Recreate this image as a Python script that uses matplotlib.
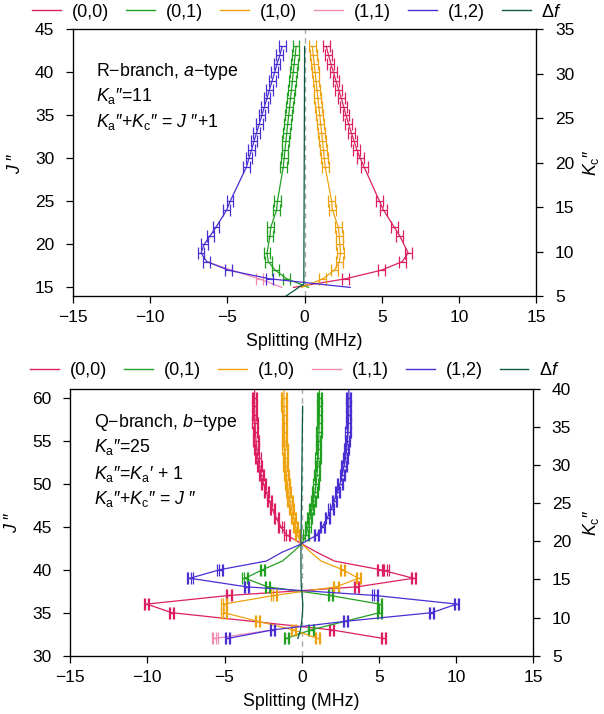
import numpy as np
import matplotlib
matplotlib.use("Agg")
import matplotlib.pyplot as plt
from matplotlib.lines import Line2D

plt.rcParams['font.family'] = ['Liberation Sans', 'DejaVu Sans']
plt.rcParams['font.size'] = 12.5
plt.rcParams['mathtext.fontset'] = 'custom'
plt.rcParams['mathtext.rm'] = 'Liberation Sans'
plt.rcParams['mathtext.it'] = 'Liberation Sans:italic'
plt.rcParams['axes.unicode_minus'] = True

labels = ["(0,0)", "(0,1)", "(1,0)", "(1,1)", "(1,2)", "Δ$f$"]
colors = ["#dc1f62", "#22a022", "#eea20e", "#f08cb4", "#4a2ed2", "#0b5a48"]

# ---------------- top panel (R-branch) ----------------
top_J_red = [43, 42, 41, 40, 39, 38, 37, 36, 35, 34, 33, 32, 31, 30, 29, 25, 24, 22, 21, 19, 18, 17, 16, 15]
top_x_red = [1.4, 1.55, 1.7, 1.87, 2.03, 2.2, 2.37, 2.53, 2.68, 2.85, 3.02, 3.2, 3.38, 3.6, 3.85,
             4.85, 5.1, 5.8, 6.15, 6.7, 6.32, 4.96, 2.64, -0.72]
top_e_red = [1]*23 + [0]

top_J_green = [43, 42, 41, 40, 39, 38, 37, 36, 35, 34, 33, 32, 31, 30, 29, 25, 24, 22, 21, 19, 18, 17, 16, 15]
top_x_green = [-0.55, -0.61, -0.67, -0.73, -0.79, -0.85, -0.91, -0.97, -1.03, -1.09, -1.15, -1.21, -1.27, -1.32, -1.38,
               -1.76, -1.81, -2.19, -2.24, -2.43, -2.35, -1.9, -1.15, 0.25]
top_e_green = [1]*23 + [0]

top_J_orange = [43, 42, 41, 40, 39, 38, 37, 36, 35, 34, 33, 32, 31, 30, 29, 25, 24, 22, 21, 20, 19, 18, 17, 16, 15]
top_x_orange = [0.5, 0.56, 0.62, 0.68, 0.74, 0.8, 0.86, 0.92, 0.98, 1.04, 1.1, 1.16, 1.22, 1.27, 1.33,
                1.75, 1.8, 2.18, 2.24, 2.28, 2.33, 2.25, 1.92, 1.18, -0.2]
top_e_orange = [1]*24 + [0]

top_J_pink = [18, 17, 16, 15]
top_x_pink = [-6.33, -4.7, -2.94, -1.47]
top_e_pink = [0, 0, 1, 0]

top_J_blue = [43, 42, 41, 40, 39, 38, 37, 36, 35, 34, 33, 32, 31, 30, 29, 25, 24, 22, 21, 20, 19, 18, 17, 16, 15]
top_x_blue = [-1.45, -1.6, -1.78, -1.93, -2.1, -2.27, -2.43, -2.6, -2.76, -2.93, -3.1, -3.27, -3.43, -3.6, -3.76,
              -4.82, -5.04, -5.73, -6.11, -6.5, -6.7, -6.33, -4.93, -2.25, 2.95]
top_e_blue = [1]*24 + [0]

top_J_df = [14, 15.4, 43]
top_x_df = [-1.2, -0.05, 0.0]

# ---------------- bottom panel (Q-branch) ----------------
bot_J_upper = [61, 60, 59, 58, 57, 56, 55, 54, 53, 52, 51, 50, 49, 48, 47, 46, 45, 44]
bot_J_lower_a = [43, 42, 41, 40, 39, 38, 37, 36, 35, 33, 32]
bot_J_lower_b = [43, 42, 41, 40, 39, 38, 37, 36, 35, 34, 33, 32]

bot_J_red = bot_J_upper + bot_J_lower_a
bot_x_red = [-3.05, -3.05, -3.05, -3.04, -3.02, -3.0, -2.96, -2.91, -2.84, -2.74, -2.62, -2.48, -2.3, -2.1, -1.9, -1.65, -1.35, -0.95,
             0.0, 1.0, 2.12, 5.07, 7.24, 3.56, -4.71, -10.04, -8.42, 1.94, 5.29]
bot_e_red = [0] + [1]*17 + [0, 0, 0] + [1]*8
bot_J_red_extra = [40]
bot_x_red_extra = [5.45]

bot_J_green = bot_J_upper + bot_J_lower_a
bot_x_green = [1.15, 1.15, 1.15, 1.14, 1.13, 1.12, 1.1, 1.08, 1.06, 1.03, 0.99, 0.93, 0.86, 0.76, 0.65, 0.52, 0.4, 0.28,
               0.0, -0.6, -1.25, -2.53, -3.67, -2.2, 1.84, 5.03, 5.03, 0.6, -1.01]
bot_e_green = [0] + [1]*17 + [0, 0, 0] + [1]*8

bot_J_orange = bot_J_upper + bot_J_lower_b
bot_x_orange = [-1.15, -1.15, -1.15, -1.14, -1.13, -1.12, -1.1, -1.08, -1.06, -1.03, -0.99, -0.93, -0.86, -0.76, -0.65, -0.52, -0.4, -0.28,
                0.0, 0.6, 1.25, 2.65, 3.67, 2.22, -1.79, -5.03, -5.03, -2.85, -0.54, 1.04]
bot_e_orange = [0] + [1]*17 + [0, 0, 0] + [1]*9

bot_J_pink = [33, 32]
bot_x_pink = [-1.88, -5.62]
bot_e_pink = [0, 1]

bot_J_blue = bot_J_upper + bot_J_lower_b
bot_x_blue = [3.05, 3.05, 3.05, 3.04, 3.02, 3.0, 2.96, 2.91, 2.84, 2.74, 2.62, 2.48, 2.3, 2.1, 1.9, 1.65, 1.35, 0.95,
              0.0, -1.3, -2.29, -5.29, -7.24, -3.56, 4.75, 10.04, 8.42, 2.85, -1.88, -4.8]
bot_e_blue = [0] + [1]*17 + [0, 0, 0] + [1]*9

bot_J_df = [32, 33, 34, 35, 36, 37, 38, 40, 43, 50, 55, 59]
bot_x_df = [-0.25, -0.08, 0.0, 0.05, 0.07, 0.03, -0.03, -0.05, -0.05, 0.0, 0.03, 0.06]

xticks = [-15, -10, -5, 0, 5, 10, 15]

fig = plt.figure(figsize=(6.04, 7.14), dpi=100)
ax1 = fig.add_axes([0.1204, 0.5854, 0.7678, 0.3736])
ax2 = fig.add_axes([0.1161, 0.08165, 0.7669, 0.3736])

LW = 0.9
LABEL_FS = 12.8


def series(ax, J, x, e, color, errs, capsize):
    J = np.asarray(J, float)
    x = np.asarray(x, float)
    m = np.asarray(e) > 0
    ax.plot(x, J, color=color, lw=LW, zorder=3)
    for er in errs:
        ax.errorbar(x[m], J[m], xerr=er, fmt='none', ecolor=color,
                    elinewidth=LW, capsize=capsize, capthick=LW, zorder=3)


def style(ax, ylim, yticks, ylim2, yticks2, xlab_y, jlab_x, klab_x):
    ax.axvline(0, color='#aaaaaa', lw=1.0, ls=(0, (4, 3)), zorder=1)
    ax.set_xlim(-15, 15)
    ax.set_ylim(*ylim)
    ax.set_xticks(xticks)
    ax.set_yticks(yticks)
    ax.tick_params(direction='out', length=5.3, width=0.9, labelsize=12.5)
    ax.tick_params(axis='y', pad=8)
    ax.tick_params(axis='x', pad=5)
    for s in ax.spines.values():
        s.set_linewidth(0.9)
    ax.set_xlabel("Splitting (MHz)", fontsize=LABEL_FS)
    ax.xaxis.set_label_coords(0.5, xlab_y)
    ax.set_ylabel("$J$ ″", fontsize=LABEL_FS)
    ax.yaxis.set_label_coords(jlab_x, 0.5)
    axr = ax.twinx()
    axr.set_ylim(*ylim2)
    axr.set_yticks(yticks2)
    axr.tick_params(direction='out', length=5.3, width=0.9, labelsize=12.5, pad=8)
    axr.set_ylabel("$K_\\mathrm{c}$″", fontsize=LABEL_FS)
    axr.yaxis.set_label_coords(klab_x, 0.5)
    return axr


# top panel
series(ax1, top_J_red, top_x_red, top_e_red, colors[0], [0.22], 4)
series(ax1, top_J_green, top_x_green, top_e_green, colors[1], [0.22], 4)
series(ax1, top_J_orange, top_x_orange, top_e_orange, colors[2], [0.22], 4)
series(ax1, top_J_pink, top_x_pink, top_e_pink, colors[3], [0.22], 4)
series(ax1, top_J_blue, top_x_blue, top_e_blue, colors[4], [0.22], 4)
ax1.plot(top_x_df, top_J_df, color=colors[5], lw=LW, zorder=4)
style(ax1, (14, 45), [15, 20, 25, 30, 35, 40, 45], (5, 35), [5, 10, 15, 20, 25, 30, 35],
      -0.14, -0.105, 1.097)

# bottom panel
series(ax2, bot_J_red, bot_x_red, bot_e_red, colors[0], [0.1, 0.17], 4)
for er in [0.1, 0.17]:
    ax2.errorbar(bot_x_red_extra, bot_J_red_extra, xerr=er, fmt='none', ecolor=colors[0],
                 elinewidth=LW, capsize=4, capthick=LW, zorder=3)
series(ax2, bot_J_green, bot_x_green, bot_e_green, colors[1], [0.1, 0.17], 4)
series(ax2, bot_J_orange, bot_x_orange, bot_e_orange, colors[2], [0.1, 0.17], 4)
series(ax2, bot_J_pink, bot_x_pink, bot_e_pink, colors[3], [0.1, 0.17], 4)
series(ax2, bot_J_blue, bot_x_blue, bot_e_blue, colors[4], [0.1, 0.17], 4)
ax2.plot(bot_x_df, bot_J_df, color=colors[5], lw=LW, zorder=4)
style(ax2, (30, 61), [30, 35, 40, 45, 50, 55, 60], (5, 40), [5, 10, 15, 20, 25, 30, 35, 40],
      -0.14, -0.106, 1.103)

# annotations
top_text = ["R−branch, $a$−type", "$K_\\mathrm{a}$″=11", "$K_\\mathrm{a}$″+$K_\\mathrm{c}$″ = $J$ ″+1"]
top_text_y = [0.84, 0.75, 0.652]
for t, y in zip(top_text, top_text_y):
    ax1.text(0.05, y, t, transform=ax1.transAxes, ha='left', va='center', fontsize=LABEL_FS)

bot_text = ["Q−branch, $b$−type", "$K_\\mathrm{a}$″=25", "$K_\\mathrm{a}$″=$K_\\mathrm{a}$′ + 1",
            "$K_\\mathrm{a}$″+$K_\\mathrm{c}$″ = $J$ ″"]
bot_text_y = [0.874, 0.783, 0.682, 0.588]
for t, y in zip(bot_text, bot_text_y):
    ax2.text(0.0507, y, t, transform=ax2.transAxes, ha='left', va='center', fontsize=LABEL_FS)

# legends
handles = [Line2D([], [], color=c, lw=1.0) for c in colors]
for yc, xc in [(0.983, 0.4917), (0.4808, 0.488)]:
    fig.legend(handles, labels, loc='center', bbox_to_anchor=(xc, yc), ncol=6, frameon=False,
               handlelength=1.6, handletextpad=0.6, columnspacing=0.95, fontsize=13,
               borderaxespad=0, borderpad=0)

fig.savefig("out.png", dpi=100)
